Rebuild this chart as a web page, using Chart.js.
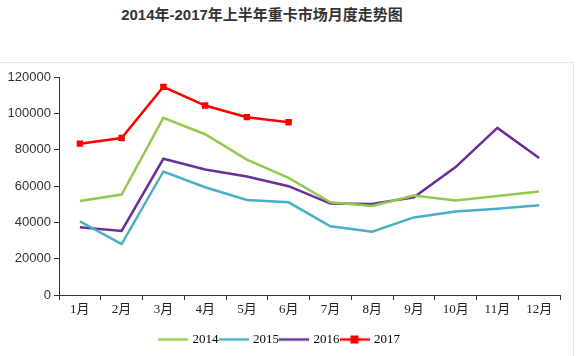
<!DOCTYPE html>
<html><head><meta charset="utf-8">
<script src="https://cdn.jsdelivr.net/npm/chart.js@4/dist/chart.umd.min.js"></script>
<style>
html,body{margin:0;padding:0;background:#fff;}
#wrap{position:relative;width:577px;height:356px;overflow:hidden;}
#frame{position:absolute;left:-2px;top:62px;width:575px;height:400px;border-top:1px solid #e3e3e3;border-right:1px solid #e3e3e3;}
#title{position:absolute;left:0;top:3px;width:524px;text-align:center;font:bold 15px "Liberation Sans","Noto Sans CJK SC",sans-serif;color:#333;}
canvas{position:absolute;left:0;top:0;}
</style></head>
<body><div id="wrap"><div id="frame"></div><div id="title">2014年-2017年上半年重卡市场月度走势图</div><canvas id="c" width="577" height="356"></canvas></div>
<script>
const categories = ['1月','2月','3月','4月','5月','6月','7月','8月','9月','10月','11月','12月'];
const seriesNames = ['2014','2015','2016','2017'];
const s2014 = [51800, 55300, 97500, 88500, 74500, 64500, 51000, 49000, 54700, 52000, 54500, 57000];
const s2015 = [40500, 28000, 68000, 59300, 52300, 51000, 37800, 34800, 42700, 45900, 47500, 49400];
const s2016 = [37300, 35300, 75000, 69100, 65200, 59900, 50300, 50100, 53800, 70400, 92000, 75400];
const s2017 = [83300, 86400, 114600, 104300, 97900, 95100];
const yTicks = [0, 20000, 40000, 60000, 80000, 100000, 120000];

const colors = ['#92C94F', '#4AAFC4', '#6A2E9A', '#FF0000'];

function sample(color, marker){
  const cv = document.createElement('canvas');
  cv.width = 30; cv.height = 10;
  const g = cv.getContext('2d');
  g.strokeStyle = color; g.lineWidth = 2.5;
  g.beginPath(); g.moveTo(0,5); g.lineTo(30,5); g.stroke();
  if (marker){ g.fillStyle = color; g.fillRect(11,1,8,8); }
  return cv;
}

const dataArr = [s2014, s2015, s2016, s2017];
const datasets = seriesNames.map((n,i)=>({
  label: n,
  data: dataArr[i],
  borderColor: colors[i],
  backgroundColor: colors[i],
  borderWidth: 2.5,
  tension: 0,
  pointRadius: i===3 ? 4.5 : 0,
  pointStyle: 'rect',
  pointBorderWidth: 0,
  fill: false
}));

new Chart(document.getElementById('c'), {
  type: 'line',
  data: { labels: categories, datasets },
  options: {
    responsive: false,
    animation: false,
    events: [],
    layout: { padding: { top: 77, right: 17, left: 0, bottom: 0 } },
    plugins: {
      title: { display: false },
      tooltip: { enabled: false },
      legend: {
        position: 'bottom',
        labels: {
          usePointStyle: true,
          pointStyleWidth: 26,
          boxWidth: 26, boxHeight: 10,
          padding: 2,
          color: '#222',
          font: { family: '"Liberation Serif","Noto Sans CJK SC",serif', size: 13 },
          generateLabels: (chart)=> chart.data.datasets.map((d,i)=>({
            text: d.label, pointStyle: sample(colors[i], i===3),
            fillStyle: colors[i], strokeStyle: colors[i], lineWidth: 0, datasetIndex: i, hidden: false
          }))
        }
      }
    },
    scales: {
      x: {
        offset: true,
        grid: { offset: true, drawOnChartArea: false, drawTicks: true, tickLength: 5, color: '#333' },
        border: { color: '#333', width: 1 },
        ticks: { color: '#222', padding: 2, maxRotation: 0, font: { family: '"Liberation Serif","Noto Sans CJK SC",serif', size: 13 } },
        afterFit: (s)=>{ s.height = 36; }
      },
      y: {
        min: 0, max: 120000,
        afterBuildTicks: (s)=>{ s.ticks = yTicks.map(v=>({value:v})); },
        grid: { drawOnChartArea: false, drawTicks: true, tickLength: 5, color: '#333' },
        border: { color: '#333', width: 1 },
        ticks: { color: '#333', padding: 3, callback: (v)=>String(v), font: { family: '"Liberation Sans",Arial,sans-serif', size: 13 } },
        afterFit: (s)=>{ s.width = 59; }
      }
    }
  }
});
</script></body></html>
